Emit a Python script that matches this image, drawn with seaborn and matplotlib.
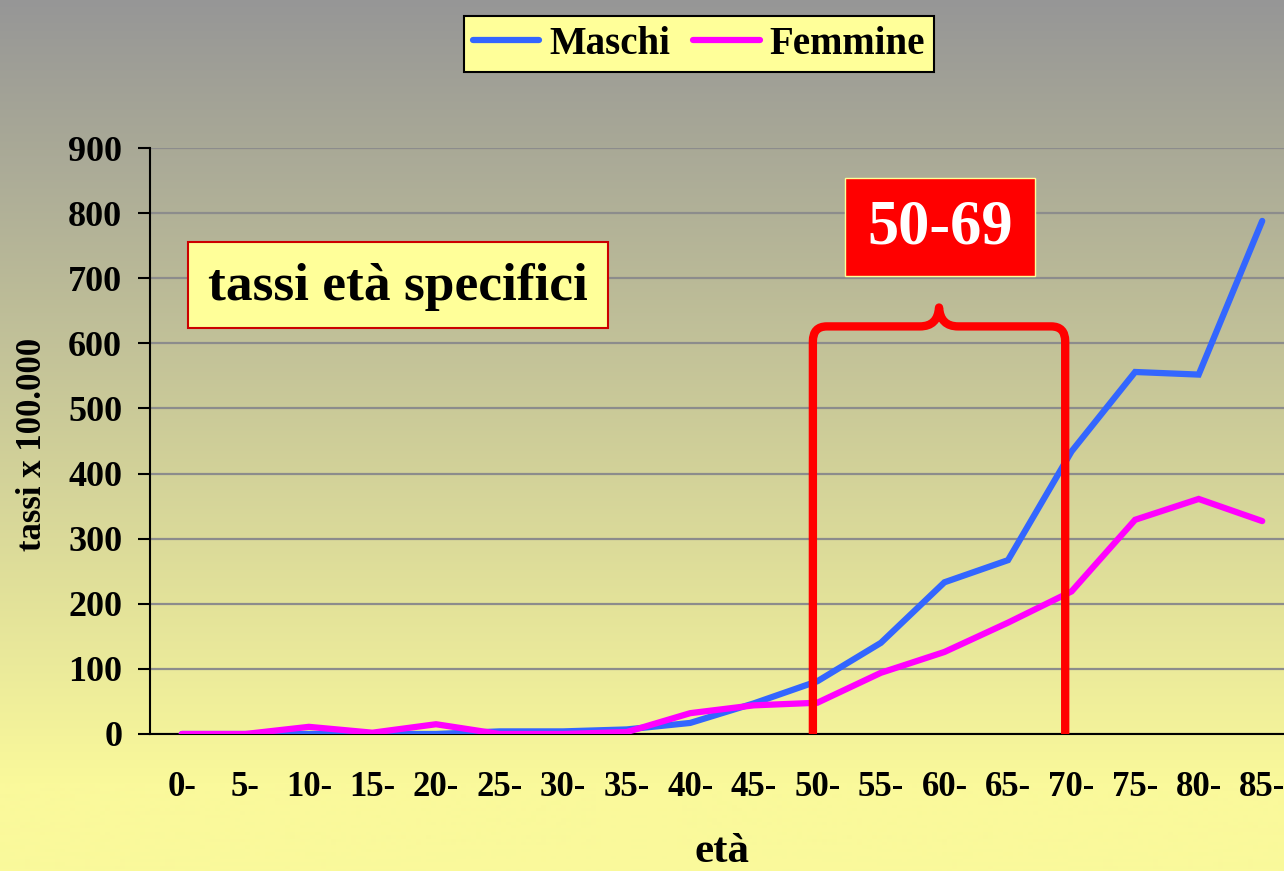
import matplotlib
matplotlib.use("Agg")
import matplotlib.pyplot as plt
import numpy as np
import pandas as pd
import seaborn as sns
from matplotlib.patches import Rectangle, PathPatch
from matplotlib.path import Path

# dati
eta = ["0-", "5-", "10-", "15-", "20-", "25-", "30-", "35-", "40-",
       "45-", "50-", "55-", "60-", "65-", "70-", "75-", "80-", "85-"]
maschi = [0, 0, 0, 0, 0, 4, 4, 7, 17, 47, 81, 140, 233, 267, 434, 556, 552, 788]
femmine = [0, 0, 11, 2, 15, 0, 0, 3, 32, 44, 48, 94, 126, 171, 219, 329, 361, 327]
y_ticks = [0, 100, 200, 300, 400, 500, 600, 700, 800, 900]

W, H = 1284, 871
SERIF = ["Liberation Serif", "DejaVu Serif"]

df = pd.concat([
    pd.DataFrame({"pos": range(len(eta)), "tasso": maschi, "sesso": "Maschi"}),
    pd.DataFrame({"pos": range(len(eta)), "tasso": femmine, "sesso": "Femmine"}),
])

sns.set_style("white")
plt.rcParams["font.family"] = SERIF
plt.rcParams["font.weight"] = "bold"
for k in ["text.color", "axes.labelcolor", "xtick.color", "ytick.color"]:
    plt.rcParams[k] = "black"

fig = plt.figure(figsize=(W / 100, H / 100), dpi=100)

# sfondo sfumato grigio -> giallo
bg = fig.add_axes([0, 0, 1, 1], zorder=-1)
top = np.array([150, 150, 150]) / 255
bot = np.array([250, 249, 155]) / 255
t = np.clip(np.linspace(0, 1, H) / 0.9, 0, 1)[:, None]
grad = top * (1 - t) + bot * t
bg.imshow(grad[:, None, :], aspect="auto", extent=[0, 1, 0, 1])
bg.axis("off")


def fx(px):
    return px / W


def fy(py):
    return 1 - py / H


ax = fig.add_axes([fx(150), fy(734), 1144 / W, 586 / H])
ax.set_facecolor("none")

sns.lineplot(data=df, x="pos", y="tasso", hue="sesso",
             palette={"Maschi": "#3366FF", "Femmine": "#FF00FF"},
             linewidth=4.5, ax=ax, legend=False, zorder=3)
for ln in ax.lines:
    ln.set_solid_capstyle("round")
    ln.set_solid_joinstyle("miter")

ax.set_xlim(-0.5, len(eta) - 0.5)
ax.set_ylim(0, 900)
ax.set_yticks(y_ticks)
ax.yaxis.grid(True, color="#8c8c8c", linewidth=1.6, zorder=0)
ax.set_axisbelow(True)
ax.set_xticks(range(len(eta)))
ax.set_xticklabels(eta)
ax.set_xticks(np.arange(-0.5, len(eta), 1), minor=True)
ax.tick_params(axis="x", which="major", length=0, pad=27, labelsize=25, labelcolor="black")
ax.tick_params(axis="x", which="minor", length=9, width=1.5, direction="out", color="black")
ax.tick_params(axis="y", length=9, width=1.5, direction="out", pad=11, labelsize=26, color="black",
               labelcolor="black", left=True)
for lab in ax.get_xticklabels() + ax.get_yticklabels():
    lab.set_fontweight("bold")
for s in ["top", "right"]:
    ax.spines[s].set_visible(False)
for s in ["left", "bottom"]:
    ax.spines[s].set_color("black")
    ax.spines[s].set_linewidth(1.5)
ax.set_xlabel("")
ax.set_ylabel("")

fig.text(fx(33), fy(444), "tassi x 100.000", rotation=90, ha="center", va="center",
         fontsize=25, fontweight="bold", color="black")
fig.text(fx(722), fy(852), "età", ha="center", va="center", fontsize=31, fontweight="bold",
         color="black")

# parentesi graffa sulla fascia 50-69
xl, xr, yh, yp = 9.93, 13.9, 626, 655
xm = (xl + xr) / 2
verts = [(xl, 0), (xl, 603), (xl, yh), (xl + 0.22, yh), (xm - 0.3, yh), (xm - 0.02, yh), (xm, yp),
         (xm + 0.02, yh), (xm + 0.3, yh), (xr - 0.22, yh), (xr, yh), (xr, 603), (xr, 0)]
codes = [Path.MOVETO, Path.LINETO, Path.CURVE3, Path.CURVE3, Path.LINETO, Path.CURVE3, Path.CURVE3,
         Path.CURVE3, Path.CURVE3, Path.LINETO, Path.CURVE3, Path.CURVE3, Path.LINETO]
ax.add_patch(PathPatch(Path(verts, codes), facecolor="none", edgecolor="#FF0000",
                       linewidth=6, capstyle="butt", joinstyle="round", zorder=5, clip_on=False))

# riquadri di testo
fig.add_artist(Rectangle((fx(188), fy(328)), 420 / W, 86 / H, transform=fig.transFigure,
                         facecolor="#FFFF99", edgecolor="#CC0000", linewidth=1.5, zorder=6))
fig.text(fx(398), fy(287), "tassi età specifici", ha="center", va="center",
         fontsize=38.5, fontweight="bold", color="black", zorder=7)
fig.add_artist(Rectangle((fx(845), fy(276)), 190 / W, 98 / H, transform=fig.transFigure,
                         facecolor="#FF0000", edgecolor="#FFFF99", linewidth=1, zorder=6))
fig.text(fx(940), fy(229), "50-69", ha="center", va="center", color="white",
         fontsize=45, fontweight="bold", zorder=7)

# legenda
handles = [plt.Line2D([], [], color="#3366FF", lw=4.5, solid_capstyle="round"),
           plt.Line2D([], [], color="#FF00FF", lw=4.5, solid_capstyle="round")]
leg = fig.legend(handles, ["Maschi", "Femmine"], loc="center", bbox_to_anchor=(fx(699), fy(44)),
                 ncol=2, frameon=True, fancybox=False, framealpha=1, edgecolor="black",
                 facecolor="#FFFF99", handlelength=1.7, handletextpad=0.25, columnspacing=0.6,
                 borderpad=0.25, prop={"family": SERIF, "weight": "bold", "size": 28})
leg.get_frame().set_linewidth(1.5)
for txt in leg.get_texts():
    txt.set_color("black")

fig.savefig("out.png", dpi=100)
